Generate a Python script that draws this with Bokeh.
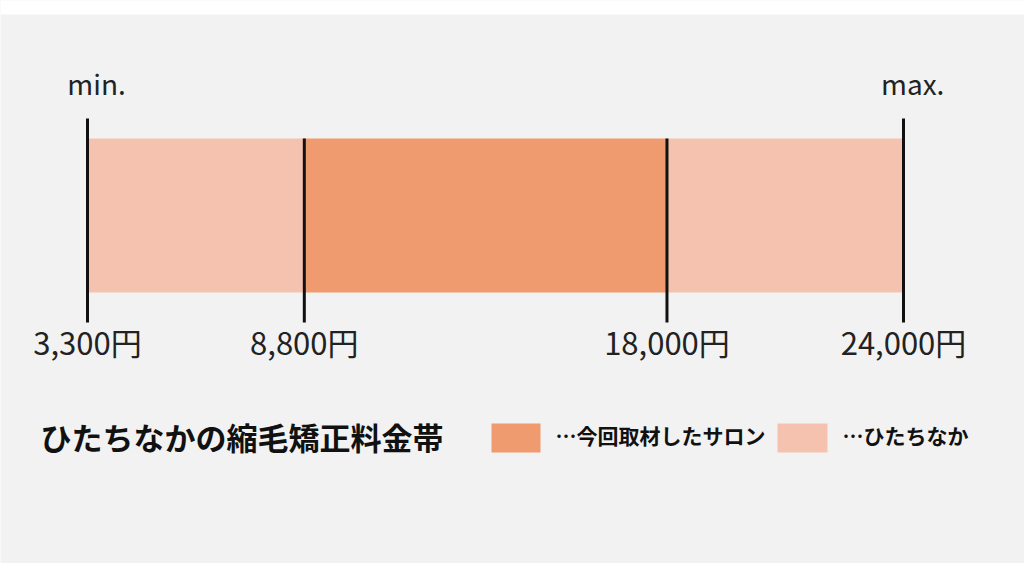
from bokeh.plotting import figure
from bokeh.models import Range1d
from bokeh.core.properties import value
from bokeh.embed import file_html
from bokeh.resources import INLINE

# ---- data ----
price_points = [3300, 8800, 18000, 24000]
price_labels = ["3,300円", "8,800円", "18,000円", "24,000円"]
seg_start = [3300, 8800, 18000]
seg_end = [8800, 18000, 24000]
seg_kind = ["area", "salon", "area"]
end_labels = ["min.", "max."]
end_values = [3300, 24000]
title_text = "ひたちなかの縮毛矯正料金帯"
legend_labels = ["…今回取材したサロン", "…ひたちなか"]

C_SALON = "#F09A70"
C_AREA = "#F5C2B0"
BG = "#F2F2F2"
FONT = "Noto Sans CJK JP"
colors = {"salon": C_SALON, "area": C_AREA}

W, H = 1024, 563
# x range chosen so that the data maps onto the reference layout
k = 20700 / 816
x0 = 3300 - 87 * k
x1 = 3300 + (W - 87) * k

p = figure(width=W, height=H, output_backend="svg", toolbar_location=None,
           x_range=Range1d(x0, x1), y_range=Range1d(H, 0),
           min_border=0, min_border_left=0, min_border_right=0,
           min_border_top=0, min_border_bottom=0)
p.extra_x_ranges = {"px": Range1d(0, W)}
p.axis.visible = False
p.grid.visible = False
p.outline_line_color = None
p.background_fill_color = BG
p.border_fill_color = BG

# white strip at the top like the reference
p.quad(left=[0], right=[W], top=[0], bottom=[14], x_range_name="px",
       fill_color="white", line_color=None)

# bars
p.quad(left=seg_start, right=seg_end, top=[138] * 3, bottom=[292] * 3,
       fill_color=[colors[c] for c in seg_kind], line_color=None)

# vertical markers
tops = [118 if v in end_values else 138 for v in price_points]
p.segment(x0=price_points, x1=price_points, y0=tops, y1=[322] * 4,
          line_color="#111111", line_width=3)

# labels
p.text(x=price_points, y=[341] * 4, text=price_labels, text_align="center",
       text_baseline="alphabetic", text_font=value(FONT), text_font_size="31px",
       text_color="#222222")
p.text(x=[v + 230 for v in end_values], y=[82, 82], text=end_labels, text_align="center",
       text_baseline="alphabetic", text_font=value(FONT), text_font_size="28px",
       text_color="#222222")

# title
p.text(x=[40], y=[436], text=[title_text], x_range_name="px",
       text_baseline="alphabetic", text_font=value(FONT), text_font_size="31px",
       text_font_style="bold", text_color="#111111")

# legend
p.quad(left=[491, 777], right=[540, 827], top=[423, 423], bottom=[452, 452],
       x_range_name="px", fill_color=[C_SALON, C_AREA], line_color=None)
p.text(x=[555, 842], y=[434, 434], text=legend_labels, x_range_name="px",
       text_baseline="alphabetic", text_font=value(FONT), text_font_size="21px",
       text_font_style="bold", text_color="#111111")

open("out.html", "w").write(file_html(p, INLINE))
